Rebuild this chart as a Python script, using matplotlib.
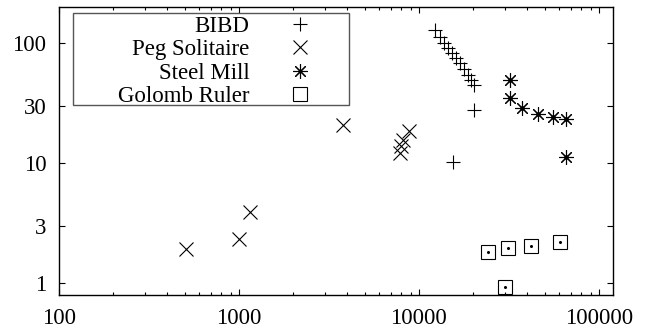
#!/usr/bin/env python3

import matplotlib
matplotlib.use('Agg')
import matplotlib.pyplot as plt
from matplotlib.patches import Rectangle
from matplotlib.ticker import FixedLocator, FixedFormatter, LogLocator, NullFormatter

# data (x: size, y: value, both log scale)
bibd_x = [12270, 13090, 13770, 14500, 15250, 16060, 16900, 17780, 18710, 19450, 20210, 20210, 15450]
bibd_y = [128, 112, 100, 91, 82.5, 75, 68, 61, 54, 49, 44.7, 27.7, 10.2]

peg_x = [508, 1000, 1150, 3780, 8800, 8150, 7940, 7840]
peg_y = [1.92, 2.33, 3.9, 20.7, 18.5, 15.5, 13.9, 12.1]

steel_x = [32060, 32060, 37350, 45800, 55500, 65600, 65600]
steel_y = [49.2, 34.8, 28.7, 25.6, 24.2, 23.3, 11.2]

golomb_x = [24160, 31200, 41900, 60700, 30050]
golomb_y = [1.81, 1.96, 2.03, 2.2, 0.926]

x_ticks = [100, 1000, 10000, 100000]
y_ticks = [1, 3, 10, 30, 100]


def main():
	plt.rcParams['font.family'] = 'Liberation Serif'
	plt.rcParams['font.size'] = 16.5

	fig = plt.figure(figsize=(6.54, 3.32), dpi=100)
	ax = fig.add_axes([59/654, 37/332, 554/654, 288/332])

	mk = dict(ls='none', color='black', markersize=10.5, markeredgewidth=0.8)
	ax.plot(bibd_x, bibd_y, marker='+', label='BIBD', **mk)
	ax.plot(peg_x, peg_y, marker='x', label='Peg Solitaire', **mk)
	ax.plot(steel_x, steel_y, marker=(8, 2, 0), label='Steel Mill', **mk)
	ax.plot(steel_x, steel_y, ls='none', marker='o', color='black', markersize=2.2)
	ax.plot(golomb_x, golomb_y, marker='s', markerfacecolor='none', label='Golomb Ruler', **mk)
	ax.plot(golomb_x, golomb_y, ls='none', marker='o', color='black', markersize=1.2)

	ax.set_xscale('log')
	ax.set_yscale('log')
	ax.set_xlim(100, 120000)
	ax.set_ylim(0.794, 200)

	ax.xaxis.set_major_locator(FixedLocator(x_ticks))
	ax.xaxis.set_major_formatter(FixedFormatter([str(v) for v in x_ticks]))
	ax.xaxis.set_minor_locator(LogLocator(base=10, subs=range(2, 10)))
	ax.xaxis.set_minor_formatter(NullFormatter())
	ax.yaxis.set_major_locator(FixedLocator(y_ticks))
	ax.yaxis.set_major_formatter(FixedFormatter([str(v) for v in y_ticks]))
	ax.yaxis.set_minor_locator(FixedLocator([]))

	ax.tick_params(which='both', direction='in', top=True, right=True, width=0.8)
	ax.tick_params(which='major', length=4.5)
	ax.tick_params(which='minor', length=2.2)
	ax.tick_params(axis='x', pad=9)
	ax.tick_params(axis='y', pad=9)
	for s in ax.spines.values():
		s.set_linewidth(1.0)

	ax.legend(loc='upper right', bbox_to_anchor=(311.5/654, 1 - 16/332),
		bbox_transform=fig.transFigure, frameon=False, markerfirst=False,
		borderpad=0, borderaxespad=0, handlelength=1.0, handletextpad=1.7,
		labelspacing=0.1)
	fig.add_artist(Rectangle((73/654, (332-105)/332), 276/654, 92/332,
		transform=fig.transFigure, fill=False, edgecolor='#555555', linewidth=1.0))

	fig.savefig('out.png', dpi=100)


if __name__ == '__main__':
	main()
